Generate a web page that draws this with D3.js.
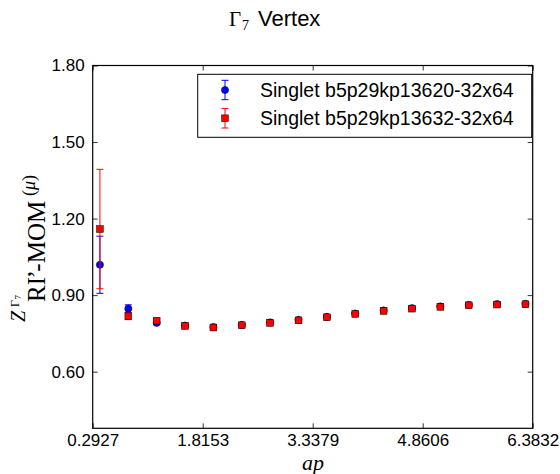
<!DOCTYPE html>
<html>
<head>
<meta charset="utf-8">
<script src="https://cdn.jsdelivr.net/npm/d3@7"></script>
<style>
  body { margin: 0; background: #fff; }
  svg { display: block; }
</style>
</head>
<body>
<script>
'use strict';

// momentum values ap (pi*k/8)
const apValues = [0.3927, 0.7854, 1.1781, 1.5708, 1.9635, 2.3562, 2.7489, 3.1416,
                  3.5343, 3.9270, 4.3197, 4.7124, 5.1051, 5.4978, 5.8905, 6.2832];

// Singlet b5p29kp13620-32x64
const blueValues = [1.019, 0.847, 0.791, 0.781, 0.775, 0.783, 0.793, 0.803,
                    0.815, 0.828, 0.840, 0.849, 0.856, 0.862, 0.865, 0.866];
const blueErrors = [0.112, 0.015, 0.006, 0.004, 0.004, 0.004, 0.004, 0.004,
                    0.004, 0.004, 0.004, 0.004, 0.004, 0.004, 0.004, 0.004];

// Singlet b5p29kp13632-32x64
const redValues = [1.159, 0.817, 0.800, 0.779, 0.773, 0.782, 0.791, 0.801,
                   0.813, 0.826, 0.838, 0.847, 0.854, 0.860, 0.863, 0.864];
const redErrors = [0.234, 0.013, 0.008, 0.005, 0.004, 0.004, 0.004, 0.004,
                   0.004, 0.004, 0.004, 0.004, 0.004, 0.004, 0.004, 0.004];

const seriesNames = ['Singlet b5p29kp13620-32x64', 'Singlet b5p29kp13632-32x64'];
const xTicks = [0.2927, 1.8153, 3.3379, 4.8606, 6.3832];
const yTicks = [0.60, 0.90, 1.20, 1.50, 1.80];

(function() {

  const sans = '"Liberation Sans", Arial, sans-serif';
  const serif = '"Liberation Serif", "DejaVu Serif", serif';

  const svg = d3.select('body').append('svg')
    .attr('width', 560)
    .attr('height', 474);

  const pLeft = 92.7, pRight = 532.7, pTop = 65.5, pBottom = 428.3;

  const x = d3.scaleLinear().domain([0.2927, 6.3832]).range([pLeft, pRight]);
  const y = d3.scaleLinear().domain([0.378, 1.80]).range([pBottom, pTop]);

  // axes with inward ticks on all four sides
  function styleAxis(g) {
    g.select('.domain').remove();
    g.selectAll('.tick line').attr('stroke', '#000').attr('stroke-width', 0.8);
    g.selectAll('.tick text')
      .attr('fill', '#000')
      .style('font-family', sans)
      .style('font-size', '17px');
  }

  svg.append('g')
    .attr('transform', `translate(0,${pBottom})`)
    .call(d3.axisBottom(x).tickValues(xTicks).tickFormat(d3.format('.4f'))
      .tickSizeInner(-5).tickSizeOuter(0).tickPadding(6))
    .call(styleAxis);

  svg.append('g')
    .attr('transform', `translate(0,${pTop})`)
    .call(d3.axisTop(x).tickValues(xTicks).tickFormat('')
      .tickSizeInner(-5).tickSizeOuter(0))
    .call(styleAxis);

  svg.append('g')
    .attr('transform', `translate(${pLeft},0)`)
    .call(d3.axisLeft(y).tickValues(yTicks).tickFormat(d3.format('.2f'))
      .tickSizeInner(-5).tickSizeOuter(0).tickPadding(8))
    .call(styleAxis);

  svg.append('g')
    .attr('transform', `translate(${pRight},0)`)
    .call(d3.axisRight(y).tickValues(yTicks).tickFormat('')
      .tickSizeInner(-5).tickSizeOuter(0))
    .call(styleAxis);

  // plot frame
  svg.append('rect')
    .attr('x', pLeft).attr('y', pTop)
    .attr('width', pRight - pLeft).attr('height', pBottom - pTop)
    .attr('fill', 'none').attr('stroke', '#000').attr('stroke-width', 1.2);

  // error bars + markers
  function drawSeries(values, errors, color, shape) {
    const g = svg.append('g');
    const rows = apValues.map((a, i) => ({ a: a, v: values[i], e: errors[i] }));

    g.selectAll('.err').data(rows).enter().append('line')
      .attr('x1', d => x(d.a)).attr('x2', d => x(d.a))
      .attr('y1', d => y(d.v - d.e)).attr('y2', d => y(d.v + d.e))
      .attr('stroke', color).attr('stroke-width', 1);

    [-1, 1].forEach(s => {
      g.selectAll('.cap' + (s + 1)).data(rows).enter().append('line')
        .attr('x1', d => x(d.a) - 3.5).attr('x2', d => x(d.a) + 3.5)
        .attr('y1', d => y(d.v + s * d.e)).attr('y2', d => y(d.v + s * d.e))
        .attr('stroke', color).attr('stroke-width', 1);
    });

    if (shape === 'circle') {
      g.selectAll('.mk').data(rows).enter().append('circle')
        .attr('cx', d => x(d.a)).attr('cy', d => y(d.v)).attr('r', 3.6)
        .attr('fill', color).attr('stroke', '#000').attr('stroke-width', 0.5);
    } else {
      g.selectAll('.mk').data(rows).enter().append('rect')
        .attr('x', d => x(d.a) - 3.4).attr('y', d => y(d.v) - 3.4)
        .attr('width', 6.8).attr('height', 6.8)
        .attr('fill', color).attr('stroke', '#000').attr('stroke-width', 0.5);
    }
  }

  drawSeries(blueValues, blueErrors, '#0000ff', 'circle');
  drawSeries(redValues, redErrors, '#ff0000', 'square');

  // legend
  const legend = svg.append('g');
  legend.append('rect')
    .attr('x', 197.7).attr('y', 74.3)
    .attr('width', 334).attr('height', 63)
    .attr('fill', '#fff').attr('stroke', '#000').attr('stroke-width', 1);

  const legendRows = [
    { name: seriesNames[0], color: '#0000ff', shape: 'circle', cy: 90 },
    { name: seriesNames[1], color: '#ff0000', shape: 'square', cy: 118.3 }
  ];
  legendRows.forEach(r => {
    legend.append('line')
      .attr('x1', 225).attr('x2', 225).attr('y1', r.cy - 9.7).attr('y2', r.cy + 9.7)
      .attr('stroke', r.color).attr('stroke-width', 1);
    [-9.7, 9.7].forEach(o => {
      legend.append('line')
        .attr('x1', 221.5).attr('x2', 228.5).attr('y1', r.cy + o).attr('y2', r.cy + o)
        .attr('stroke', r.color).attr('stroke-width', 1);
    });
    if (r.shape === 'circle') {
      legend.append('circle').attr('cx', 225).attr('cy', r.cy).attr('r', 3.6)
        .attr('fill', r.color).attr('stroke', '#000').attr('stroke-width', 0.5);
    } else {
      legend.append('rect').attr('x', 221.6).attr('y', r.cy - 3.4)
        .attr('width', 6.8).attr('height', 6.8)
        .attr('fill', r.color).attr('stroke', '#000').attr('stroke-width', 0.5);
    }
    legend.append('text')
      .attr('x', 260).attr('y', r.cy + 7)
      .style('font-family', sans).style('font-size', '19.5px')
      .text(r.name);
  });

  // title
  svg.append('text').attr('x', 229).attr('y', 26)
    .style('font-family', serif).style('font-size', '21px').text('\u0393');
  svg.append('text').attr('x', 242).attr('y', 30)
    .style('font-family', serif).style('font-size', '14px').text('7');
  svg.append('text').attr('x', 258).attr('y', 26)
    .style('font-family', sans).style('font-size', '22px').text('Vertex');

  // x label
  svg.append('text')
    .attr('x', 313).attr('y', 470)
    .attr('text-anchor', 'middle')
    .style('font-family', serif).style('font-style', 'italic').style('font-size', '22px')
    .text('ap');

  // y label (rotated)
  const ylab = svg.append('g').attr('transform', 'translate(45,328) rotate(-90)');
  ylab.append('text').attr('x', 6).attr('y', -20)
    .style('font-family', serif).style('font-style', 'italic').style('font-size', '20px')
    .text('Z');
  ylab.append('text').attr('x', 21).attr('y', -26)
    .style('font-family', serif).style('font-size', '12px')
    .text('\u0393');
  ylab.append('text').attr('x', 28.5).attr('y', -24)
    .style('font-family', serif).style('font-size', '9px')
    .text('7');
  const sub = ylab.append('text').attr('x', 26).attr('y', 0)
    .style('font-family', serif).style('font-size', '25px');
  sub.append('tspan').text('RI');
  sub.append('tspan').attr('dx', -1.5).text('\u2019');
  sub.append('tspan').attr('dx', -1.5).text('-MOM');
  const mu = ylab.append('text').attr('x', 132).attr('y', -10)
    .style('font-family', serif).style('font-size', '18px');
  mu.append('tspan').text('(');
  mu.append('tspan').style('font-style', 'italic').text('\u03bc');
  mu.append('tspan').text(')');

})();
</script>
</body>
</html>
